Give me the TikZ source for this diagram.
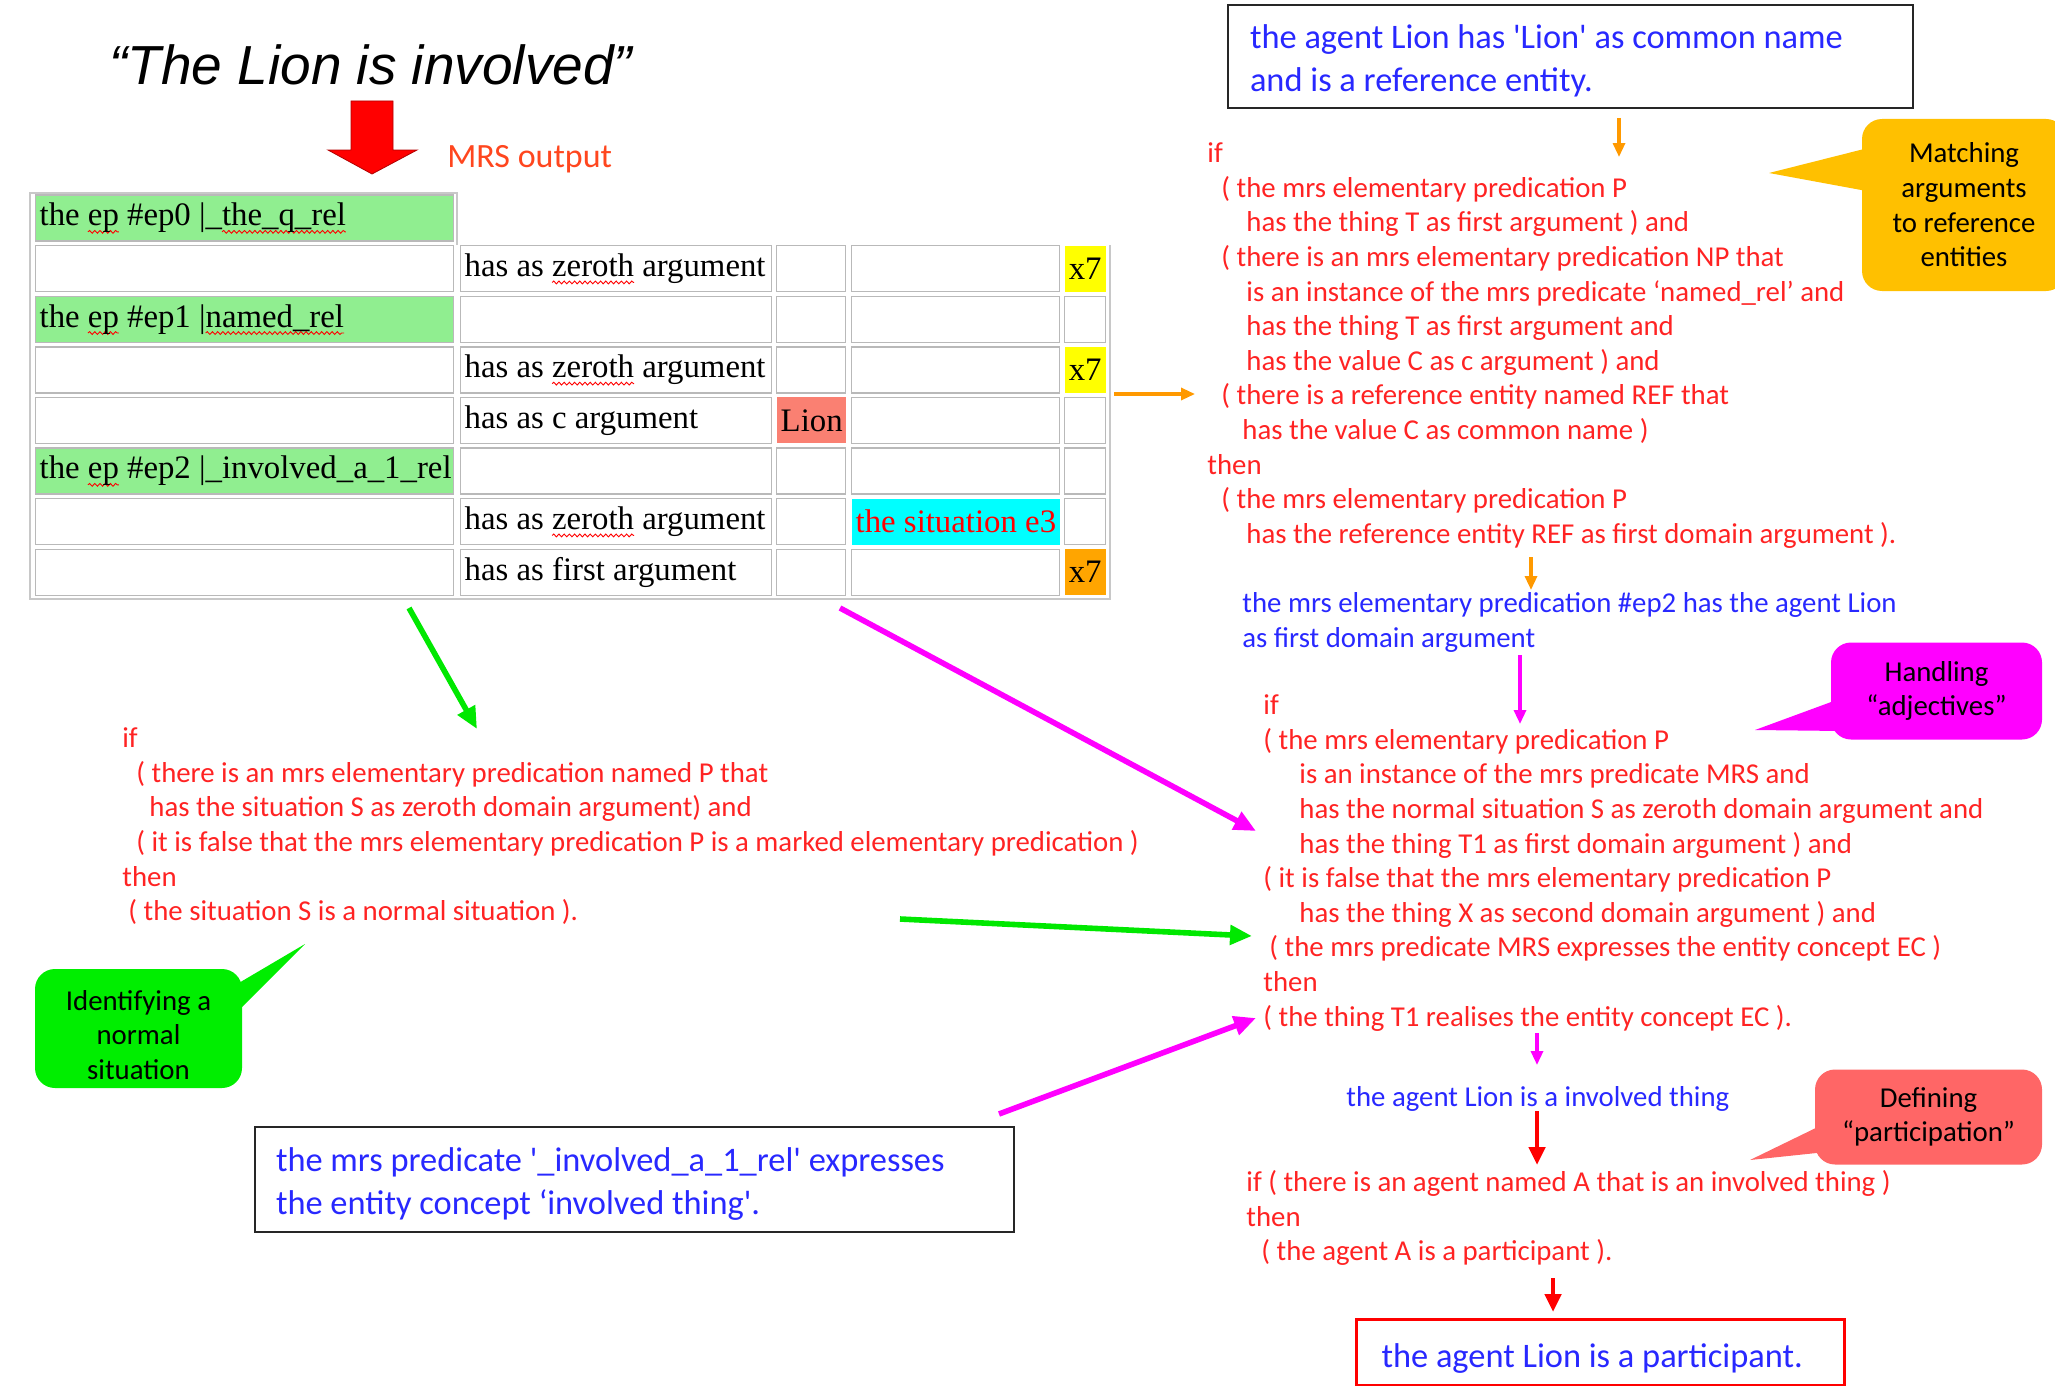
\documentclass[tikz,border=0pt]{standalone}
\usepackage{fontspec}
\setmainfont{Carlito}
\newfontfamily\seriffont{Liberation Serif}
\newfontfamily\titlefont{Liberation Sans}
\usetikzlibrary{arrows.meta,decorations.pathmorphing}
\definecolor{rtext}{RGB}{255,35,35}
\definecolor{btext}{RGB}{40,40,255}
\definecolor{mrsred}{RGB}{255,70,30}
\definecolor{garrow}{RGB}{0,232,0}
\definecolor{gcall}{RGB}{0,238,0}
\definecolor{magen}{RGB}{255,0,255}
\definecolor{oarrow}{RGB}{255,153,0}
\definecolor{ycall}{RGB}{255,192,0}
\definecolor{rcall}{RGB}{255,102,102}
\definecolor{salmoncell}{RGB}{250,128,114}
\definecolor{greencell}{RGB}{144,238,144}
\definecolor{cyancell}{RGB}{0,255,255}
\definecolor{orangecell}{RGB}{255,165,0}
\definecolor{yellowcell}{RGB}{255,255,0}
\definecolor{cellgray}{RGB}{185,185,185}
\definecolor{framegray}{RGB}{200,200,200}
\newsavebox\wavebox
\newlength\wavelen
\newcommand\spellwave[1]{\sbox\wavebox{#1}\setlength\wavelen{\wd\wavebox}%
  \rlap{\tikz[baseline=0pt]{\useasboundingbox (0pt,0pt); \draw[overlay,red,line width=0.45pt,decorate,decoration={snake,amplitude=0.7pt,segment length=2.6pt}] (0pt,-3pt) -- (\wavelen,-3pt);}}\usebox\wavebox}
\newcommand\natsp{\spaceskip=0pt\xspaceskip=0pt\relax}
\newcommand\tc[6]{\node[tcell,text width=#4,#5] (#1) at (#2,#3) {\natsp\mbox{#6}};}
\begin{document}
\begin{tikzpicture}[x=0.5pt,y=-0.5pt,
  tcell/.style={draw=cellgray,line width=0.7pt,minimum height=23pt,inner xsep=2pt,inner ysep=0pt,anchor=west,align=left,font=\seriffont\fontsize{16.4}{19}\selectfont},
  ruletext/.style={inner sep=0pt,align=left,text=rtext,anchor=north west,font=\fontsize{14.4}{17.3}\selectfont},
  bluetext/.style={inner sep=0pt,align=left,text=btext,font=\fontsize{14.4}{17.3}\selectfont},
  textbox/.style={inner ysep=0pt,align=left,text=btext,anchor=north west,font=\fontsize{17.2}{21.5}\selectfont},
  callout/.style={rounded corners=10pt,inner sep=0pt,align=center,font=\fontsize{14.4}{17.3}\selectfont},
  thickarrow/.style={line width=2.8pt,-{Triangle[length=11pt,width=9.5pt]}},
  thinarrow/.style={line width=1.6pt,-{Triangle[length=7pt,width=6pt]}},
  midarrow/.style={line width=2.4pt,-{Triangle[length=9pt,width=8pt]}}
]
\useasboundingbox (0,0) rectangle (2055,1386);

% title and block arrow
\node[anchor=base west,inner sep=0pt,font=\titlefont\itshape\fontsize{27.5}{33}\selectfont] (title) at (109,85) {“The Lion is involved”};
\fill[red,draw=red!70!black,line width=0.4pt] (351,101) -- (393,101) -- (393,150) -- (417,150) -- (372,174) -- (328,150) -- (351,150) -- cycle;
\node[anchor=base west,inner sep=0pt,text=mrsred,font=\fontsize{17}{20}\selectfont] (mrs) at (447,167) {MRS output};

% table frame
\draw[framegray,line width=1pt] (457,245) -- (457,193) -- (30,193) -- (30,599) -- (1110,599) -- (1110,245);

% table rows
\tc{c11}{35}{218}{205pt}{fill=greencell}{the \spellwave{ep} \#ep0 |\_\spellwave{the\_q\_rel}}

\tc{c21}{35}{268.6}{205pt}{}{}
\tc{c22}{460}{268.6}{151.5pt}{}{has as \spellwave{zeroth} argument}
\tc{c23}{776}{268.6}{30.5pt}{}{}
\tc{c24}{851}{268.6}{100pt}{}{}
\tc{c25}{1064}{268.6}{16.5pt}{fill=yellowcell,draw=none,align=center}{x7}

\tc{c31}{35}{319.2}{205pt}{fill=greencell}{the \spellwave{ep} \#ep1 |\spellwave{named\_rel}}
\tc{c32}{460}{319.2}{151.5pt}{}{}
\tc{c33}{776}{319.2}{30.5pt}{}{}
\tc{c34}{851}{319.2}{100pt}{}{}
\tc{c35}{1064}{319.2}{16.5pt}{}{}

\tc{c41}{35}{369.8}{205pt}{}{}
\tc{c42}{460}{369.8}{151.5pt}{}{has as \spellwave{zeroth} argument}
\tc{c43}{776}{369.8}{30.5pt}{}{}
\tc{c44}{851}{369.8}{100pt}{}{}
\tc{c45}{1064}{369.8}{16.5pt}{fill=yellowcell,draw=none,align=center}{x7}

\tc{c51}{35}{420.4}{205pt}{}{}
\tc{c52}{460}{420.4}{151.5pt}{}{has as c argument}
\tc{c53}{776}{420.4}{30.5pt}{fill=salmoncell,draw=none,align=center}{Lion}
\tc{c54}{851}{420.4}{100pt}{}{}
\tc{c55}{1064}{420.4}{16.5pt}{}{}

\tc{c61}{35}{471}{205pt}{fill=greencell}{the \spellwave{ep} \#ep2 |\_involved\_a\_1\_rel}
\tc{c62}{460}{471}{151.5pt}{}{}
\tc{c63}{776}{471}{30.5pt}{}{}
\tc{c64}{851}{471}{100pt}{}{}
\tc{c65}{1064}{471}{16.5pt}{}{}

\tc{c71}{35}{521.6}{205pt}{}{}
\tc{c72}{460}{521.6}{151.5pt}{}{has as \spellwave{zeroth} argument}
\tc{c73}{776}{521.6}{30.5pt}{}{}
\tc{c74}{851}{521.6}{100pt}{fill=cyancell,draw=none,text=red}{the situation e3}
\tc{c75}{1064}{521.6}{16.5pt}{}{}

\tc{c81}{35}{572.2}{205pt}{}{}
\tc{c82}{460}{572.2}{151.5pt}{}{has as first argument}
\tc{c83}{776}{572.2}{30.5pt}{}{}
\tc{c84}{851}{572.2}{100pt}{}{}
\tc{c85}{1064}{572.2}{16.5pt}{fill=orangecell,draw=none,align=center}{x7}

% top right box
\node[textbox,draw=black!85,line width=1pt,inner xsep=11pt,text width=320.5pt,minimum height=51.5pt] (refbox) at (1227,4)
  {\natsp\rule{0pt}{16.5pt}the agent Lion has \textquotesingle Lion\textquotesingle{} as common name\\and is a reference entity.};

% rule 1
\node[ruletext] (rule1) at (1207,138) {\strut if\\
\hspace*{7pt}( the mrs elementary predication P\\
\hspace*{19.5pt}has the thing T as first argument ) and\\
\hspace*{7pt}( there is an mrs elementary predication NP that\\
\hspace*{19.5pt}is an instance of the mrs predicate ‘named\_rel’ and\\
\hspace*{19.5pt}has the thing T as first argument and\\
\hspace*{19.5pt}has the value C as c argument ) and\\
\hspace*{7pt}( there is a reference entity named REF that\\
\hspace*{17.5pt}has the value C as common name )\\
then\\
\hspace*{7pt}( the mrs elementary predication P\\
\hspace*{19.5pt}has the reference entity REF as first domain argument ).};

% matching callout
\node[callout,fill=ycall,minimum width=102pt,minimum height=86pt] (match) at (1964,205) {Matching\\arguments\\to reference\\entities};
\fill[ycall] (1769,173) -- (1872,147) -- (1872,192) -- cycle;

% ep2 blue text
\node[bluetext,anchor=north west] (ep2txt) at (1242,588) {\strut the mrs elementary predication \#ep2 has the agent Lion\\as first domain argument};

% adjectives callout
\node[callout,fill=magen,minimum width=105.5pt,minimum height=48.5pt] (adj) at (1936.5,691) {Handling\\“adjectives”};
\fill[magen] (1755,730) -- (1842,698) -- (1842,731) -- cycle;

% rule 2
\node[ruletext] (rule2) at (1263,690) {\strut if\\
( the mrs elementary predication P\\
\hspace*{18pt}is an instance of the mrs predicate MRS and\\
\hspace*{18pt}has the normal situation S as zeroth domain argument and\\
\hspace*{18pt}has the thing T1 as first domain argument ) and\\
( it is false that the mrs elementary predication P\\
\hspace*{18pt}has the thing X as second domain argument ) and\\
\hspace*{3pt}( the mrs predicate MRS expresses the entity concept EC )\\
then\\
( the thing T1 realises the entity concept EC ).};

% involved thing
\node[bluetext,anchor=base west] (invthing) at (1346,1106) {the agent Lion is a involved thing};

% participation callout
\node[callout,fill=rcall,minimum width=113.5pt,minimum height=47.5pt] (part) at (1928.5,1117) {Defining\\“participation”};
\fill[rcall] (1750,1160) -- (1826,1123) -- (1826,1152) -- cycle;

% rule 3
\node[ruletext] (rule3) at (1246,1167) {\strut if ( there is an agent named A that is an involved thing )\\
then\\
\hspace*{7.5pt}( the agent A is a participant ).};

% final box
\node[textbox,draw=red,line width=1.5pt,inner xsep=12.5pt,text width=219pt,minimum height=33pt] (final) at (1355,1318) {\natsp\mbox{\rule{0pt}{18pt}the agent Lion is a participant.}};

% rule 0
\node[ruletext] (rule0) at (122,723) {\strut if\\
\hspace*{7pt}( there is an mrs elementary predication named P that\\
\hspace*{13.5pt}has the situation S as zeroth domain argument) and\\
\hspace*{7pt}( it is false that the mrs elementary predication P is a marked elementary predication )\\
then\\
\hspace*{3pt}( the situation S is a normal situation ).};

% normal situation callout (box and text)
\fill[gcall,rounded corners=10pt] (35,969) rectangle (242,1088);
\fill[gcall] (305,944) -- (232,987) -- (232,1017) -- cycle;
\node[inner sep=0pt,align=center,font=\fontsize{14.4}{17.3}\selectfont] (normal) at (138.5,1035) {Identifying a\\normal\\situation};

% bottom left box
\node[textbox,draw=black!85,line width=1pt,inner xsep=10.5pt,text width=358.5pt,minimum height=52.5pt] (exprbox) at (254,1126)
  {\natsp\rule{0pt}{16.5pt}the mrs predicate \textquotesingle\_involved\_a\_1\_rel\textquotesingle{} expresses\\the entity concept ‘involved thing\textquotesingle.};

% connector end points
\coordinate (oA1) at (1619,118); \coordinate (oA2) at (1619,157);
\coordinate (oB1) at (1114,394); \coordinate (oB2) at (1195,394);
\coordinate (oC1) at (1531,557); \coordinate (oC2) at (1531,590);
\coordinate (mA1) at (1520,655); \coordinate (mA2) at (1520,724);
\coordinate (mB1) at (1537,1033); \coordinate (mB2) at (1537,1065);
\coordinate (rA1) at (1537,1111); \coordinate (rA2) at (1537,1165);
\coordinate (rB1) at (1553,1278); \coordinate (rB2) at (1553,1312);
\coordinate (gA1) at (409,608); \coordinate (gA2) at (477,729);
\coordinate (gB1) at (900,919); \coordinate (gB2) at (1252,936);
\coordinate (mC1) at (840,608); \coordinate (mC2) at (1256,831);
\coordinate (mD1) at (999,1114); \coordinate (mD2) at (1256,1018);

% connectors
\draw[oarrow,thinarrow] (oA1) -- (oA2);
\draw[oarrow,thinarrow] (oB1) -- (oB2);
\draw[oarrow,thinarrow] (oC1) -- (oC2);
\draw[magen,thinarrow] (mA1) -- (mA2);
\draw[magen,thinarrow] (mB1) -- (mB2);
\draw[red,midarrow] (rA1) -- (rA2);
\draw[red,midarrow] (rB1) -- (rB2);
\draw[garrow,thickarrow] (gA1) -- (gA2);
\draw[garrow,thickarrow] (gB1) -- (gB2);
\draw[magen,thickarrow] (mC1) -- (mC2);
\draw[magen,thickarrow] (mD1) -- (mD2);
\end{tikzpicture}
\end{document}
